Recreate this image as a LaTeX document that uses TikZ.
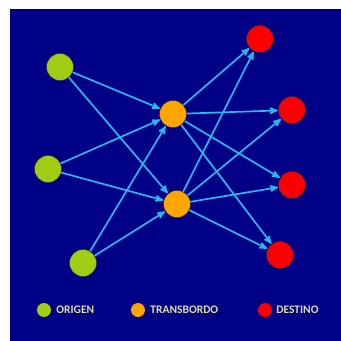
\documentclass[tikz,border=0pt]{standalone}
\usepackage{fontspec}
\setmainfont{Carlito}
\usepackage{tikz}
\usetikzlibrary{arrows,positioning}

\definecolor{fondo}{RGB}{0,0,135}
\definecolor{verde}{RGB}{160,205,20}
\definecolor{naranja}{RGB}{255,165,0}
\definecolor{rojo}{RGB}{250,0,0}
\definecolor{flecha}{RGB}{40,185,240}
\definecolor{letra}{RGB}{225,220,160}

\begin{document}
\begin{tikzpicture}[x=1pt,y=-1pt,->,>=stealth',
                    main node/.style={circle,draw=black!80,thin,minimum size=27pt,inner sep=0pt},
                    small node/.style={circle,minimum size=14pt,inner sep=0pt},
                    key text/.style={inner sep=0pt,text=letra,font=\bfseries\fontsize{11.5}{14}\selectfont}]

  \useasboundingbox (0,0) rectangle (341,341);
  \fill[fondo] (10,9) rectangle (341,341);

  %Origen%
  \node[main node,fill=verde] (o1) at (60,67) {};
  \node[main node,fill=verde] (o2) at (48,169) {};
  \node[main node,fill=verde] (o3) at (83,263) {};
  %Transbordo%
  \node[main node,fill=naranja] (t1) at (173,114) {};
  \node[main node,fill=naranja] (t2) at (177,204) {};
  %Destino%
  \node[main node,fill=rojo] (d1) at (260,39) {};
  \node[main node,fill=rojo] (d2) at (292,110) {};
  \node[main node,fill=rojo] (d3) at (292,185) {};
  \node[main node,fill=rojo] (d4) at (280,255) {};

  \path[draw=flecha,line width=1.7pt,shorten >=0.5pt]
    (o1) edge (t1)
         edge (t2)
    (o2) edge (t1)
         edge (t2)
    (o3) edge (t1)
         edge (t2)
    (t1) edge (d1)
         edge (d2)
         edge (d3)
         edge (d4)
    (t2) edge (d1)
         edge (d2)
         edge (d3)
         edge (d4);

  %Leyenda%
  \node[small node,fill=verde] (lo) at (44,310) {};
  \node[key text,right=5pt of lo] (lo text) {ORIGEN};
  \node[small node,fill=naranja] (lt) at (138,310) {};
  \node[key text,right=5pt of lt] (lt text) {TRANSBORDO};
  \node[small node,fill=rojo] (ld) at (265,310) {};
  \node[key text,right=4pt of ld] (ld text) {DESTINO};
\end{tikzpicture}
\end{document}
